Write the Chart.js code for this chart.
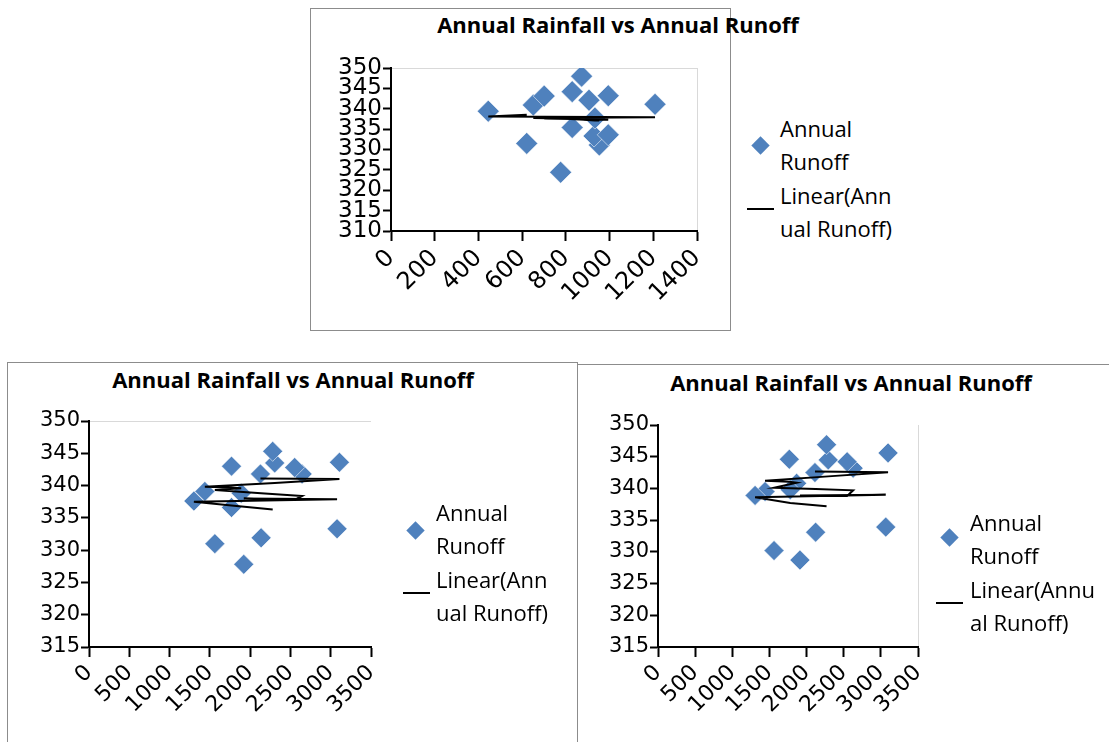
<!DOCTYPE html>
<html>
<head>
<meta charset="utf-8">
<script src="https://cdn.jsdelivr.net/npm/chart.js@4.4.1/dist/chart.umd.min.js"></script>
<style>
  html, body { margin: 0; padding: 0; background: #fff; }
  body { width: 1109px; height: 742px; position: relative; overflow: hidden; font-family: 'Open Sans', sans-serif; }
  .frame { position: absolute; border: 1px solid #8c8c8c; box-sizing: border-box; }
  canvas { position: absolute; }
  .title { position: absolute; font-weight: 700; font-size: 22px; line-height: 26px; color: #000; white-space: nowrap; text-align: center; width: 420px; }
  .legend { position: absolute; font-size: 22px; line-height: 33.3px; color: #000; white-space: nowrap; }
  .diamond { position: absolute; width: 13px; height: 13px; background: #4f81bd; transform: rotate(45deg); }
  .legline { position: absolute; height: 2px; background: #000; }
</style>
</head>
<body>
<div class="frame" style="left:310px;top:8px;width:421px;height:323px"></div>
<div class="frame" style="left:7px;top:362px;width:571px;height:400px"></div>
<div class="frame" style="left:577px;top:364px;width:560px;height:400px"></div>

<div class="title" id="tA" style="left:408px;top:11px"></div>
<div class="title" id="tB" style="left:83px;top:366px"></div>
<div class="title" id="tC" style="left:641px;top:369px"></div>

<canvas id="cA" width="420" height="322" style="left:310px;top:8px"></canvas>
<canvas id="cB" width="570" height="380" style="left:7px;top:362px"></canvas>
<canvas id="cC" width="531" height="378" style="left:578px;top:364px"></canvas>

<div class="diamond" style="left:754px;top:139px"></div>
<div class="legline" style="left:747px;top:208px;width:27px"></div>
<div class="legend" style="left:780px;top:112px">Annual<br>Runoff<br>Linear(Ann<br>ual Runoff)</div>

<div class="diamond" style="left:409px;top:524px"></div>
<div class="legline" style="left:403px;top:592px;width:27px"></div>
<div class="legend" style="left:436px;top:496px">Annual<br>Runoff<br>Linear(Ann<br>ual Runoff)</div>

<div class="diamond" style="left:943px;top:531px"></div>
<div class="legline" style="left:936px;top:602px;width:27px"></div>
<div class="legend" style="left:970px;top:506px">Annual<br>Runoff<br>Linear(Annu<br>al Runoff)</div>

<script>
// Chart titles
const titleText = 'Annual Rainfall vs Annual Runoff';

// Upper chart: rainfall (x), runoff (y) and the linear-fit line, in row order
const rainfallA = [621, 445, 1208, 651, 994, 701, 829, 953, 776, 929, 872, 994, 829, 933, 906];
const runoffA   = [331.5, 339.4, 341.1, 340.9, 343.2, 343.1, 344.2, 331.1, 324.4, 333.3, 348.0, 333.6, 335.4, 337.7, 342.1];
const linearA   = [338.5, 338.1, 337.9, 337.7, 337.4, 337.6, 337.5, 337.1, 337.6, 337.2, 337.5, 337.3, 337.5, 337.1, 337.3];

// Lower-left chart
const rainfallB = [2128, 3108, 2305, 1438, 1769, 1889, 1562, 2136, 2645, 2553, 1921, 3079, 1302, 1769, 2280];
const runoffB   = [341.8, 343.6, 343.5, 339.1, 343.0, 338.8, 331.0, 331.9, 341.8, 342.8, 327.8, 333.3, 337.6, 336.6, 345.3];
const linearB   = [341.1, 341.0, 340.4, 339.8, 339.7, 339.6, 339.3, 338.8, 338.4, 337.8, 338.0, 337.9, 337.5, 336.9, 336.3];

// Lower-right chart
const rainfallC = [2113, 3097, 2292, 1441, 1768, 1866, 1562, 2122, 2627, 2546, 1911, 3066, 1307, 1780, 2269];
const runoffC   = [342.5, 345.6, 344.5, 339.5, 344.6, 340.8, 330.2, 333.1, 343.2, 344.2, 328.7, 333.9, 338.9, 339.8, 346.9];
const linearC   = [342.65, 342.55, 341.9, 341.2, 341.05, 340.9, 340.1, 339.9, 339.7, 338.8, 338.9, 339.0, 338.6, 337.7, 337.2];

// Axis ranges and tick steps
const xTicksA = { min: 0, max: 1400, step: 200 };
const yTicksA = { min: 310, max: 350, step: 5 };
const xTicksBC = { min: 0, max: 3500, step: 500 };
const yTicksBC = { min: 315, max: 350, step: 5 };

const seriesName = 'Annual Runoff';
const trendName = 'Linear(Annual Runoff)';
const tickFamily = 'DejaVu Sans';

['tA', 'tB', 'tC'].forEach(id => { document.getElementById(id).textContent = titleText; });

function pairs(xs, ys) { return xs.map((x, i) => ({ x: x, y: ys[i] })); }

function makeChart(id, xs, ys, fit, xr, yr, o) {
  const lightLine = '#d9d9d9';
  return new Chart(document.getElementById(id), {
    type: 'scatter',
    data: {
      datasets: [
        {
          label: trendName,
          data: pairs(xs, fit),
          showLine: true,
          borderColor: '#000',
          borderWidth: 2,
          pointRadius: 0,
          tension: 0,
          order: 0
        },
        {
          label: seriesName,
          data: pairs(xs, ys),
          pointStyle: 'rectRot',
          pointRadius: o.r,
          pointHoverRadius: o.r,
          backgroundColor: '#4f81bd',
          borderColor: 'rgba(255,255,255,0.55)',
          borderWidth: 1,
          order: 1
        }
      ]
    },
    options: {
      responsive: false,
      animation: false,
      events: [],
      layout: { padding: { top: o.top, right: o.right, left: 0, bottom: 0 } },
      plugins: { legend: { display: false }, title: { display: false }, tooltip: { enabled: false } },
      scales: {
        x: {
          type: 'linear',
          min: xr.min, max: xr.max,
          ticks: {
            stepSize: xr.step, autoSkip: false, minRotation: 45, maxRotation: 45,
            color: '#000', padding: o.xPad,
            font: { family: tickFamily, size: o.xFont },
            callback: v => String(v)
          },
          grid: {
            color: c => (o.rightLine && c.tick && c.tick.value === xr.max) ? lightLine : 'rgba(0,0,0,0)',
            tickColor: '#000', tickLength: 10, tickWidth: 2, lineWidth: 1
          },
          border: { color: '#000', width: 2 },
          afterFit: s => { s.height = o.xH; }
        },
        y: {
          type: 'linear',
          min: yr.min, max: yr.max,
          ticks: {
            stepSize: yr.step, autoSkip: false, color: '#000', padding: 1,
            font: { family: tickFamily, size: o.yFont, lineHeight: 1 },
            callback: v => String(v)
          },
          grid: {
            color: c => (o.topLine && c.tick && c.tick.value === yr.max) ? lightLine : 'rgba(0,0,0,0)',
            tickColor: '#000', tickLength: 8, tickWidth: 2, lineWidth: 1
          },
          border: { color: '#000', width: 2 },
          afterFit: s => { s.width = o.yW; }
        }
      }
    }
  });
}

makeChart('cA', rainfallA, runoffA, linearA, xTicksA, yTicksA,
  { r: 11, top: 60, right: 33, xH: 99, yW: 81, xFont: 24, yFont: 23, xPad: 3, topLine: true, rightLine: true });
makeChart('cB', rainfallB, runoffB, linearB, xTicksBC, yTicksBC,
  { r: 10, top: 59, right: 206, xH: 95, yW: 82, xFont: 22, yFont: 21, xPad: 3, topLine: true, rightLine: false });
makeChart('cC', rainfallC, runoffC, linearC, xTicksBC, yTicksBC,
  { r: 10, top: 61, right: 191, xH: 95, yW: 80, xFont: 22, yFont: 21, xPad: 3, topLine: false, rightLine: true });
</script>
</body>
</html>
